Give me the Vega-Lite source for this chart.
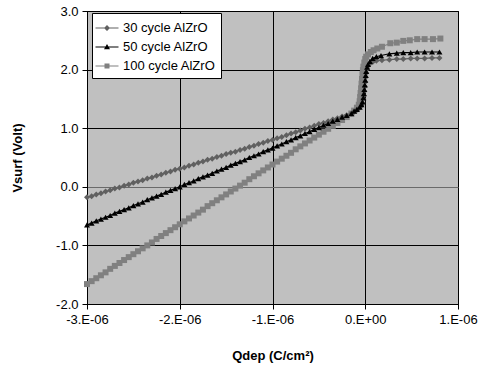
{
"$schema": "https://vega.github.io/schema/vega-lite/v6.json",
"width": 371, "height": 293,
"autosize": "none",
"padding": {"left": 87, "top": 11, "right": 40, "bottom": 72},
"background": "white",
"config": {"view": {"fill": "#C0C0C0", "stroke": "black", "strokeWidth": 1}, "font": "Liberation Sans"},
"data": {"values": [
{"s":"100 cycle AlZrO","q":-3.00e-6,"v":-1.66},{"s":"100 cycle AlZrO","q":-2.95e-6,"v":-1.61},{"s":"100 cycle AlZrO","q":-2.90e-6,"v":-1.56},{"s":"100 cycle AlZrO","q":-2.85e-6,"v":-1.51},{"s":"100 cycle AlZrO","q":-2.80e-6,"v":-1.46},{"s":"100 cycle AlZrO","q":-2.75e-6,"v":-1.40},{"s":"100 cycle AlZrO","q":-2.70e-6,"v":-1.35},{"s":"100 cycle AlZrO","q":-2.65e-6,"v":-1.30},{"s":"100 cycle AlZrO","q":-2.60e-6,"v":-1.25},{"s":"100 cycle AlZrO","q":-2.55e-6,"v":-1.20},
{"s":"100 cycle AlZrO","q":-2.50e-6,"v":-1.15},{"s":"100 cycle AlZrO","q":-2.45e-6,"v":-1.10},{"s":"100 cycle AlZrO","q":-2.40e-6,"v":-1.05},{"s":"100 cycle AlZrO","q":-2.35e-6,"v":-1.00},{"s":"100 cycle AlZrO","q":-2.30e-6,"v":-0.95},{"s":"100 cycle AlZrO","q":-2.25e-6,"v":-0.89},{"s":"100 cycle AlZrO","q":-2.20e-6,"v":-0.84},{"s":"100 cycle AlZrO","q":-2.15e-6,"v":-0.79},{"s":"100 cycle AlZrO","q":-2.10e-6,"v":-0.74},{"s":"100 cycle AlZrO","q":-2.05e-6,"v":-0.69},
{"s":"100 cycle AlZrO","q":-2.00e-6,"v":-0.64},{"s":"100 cycle AlZrO","q":-1.95e-6,"v":-0.59},{"s":"100 cycle AlZrO","q":-1.90e-6,"v":-0.54},{"s":"100 cycle AlZrO","q":-1.85e-6,"v":-0.49},{"s":"100 cycle AlZrO","q":-1.80e-6,"v":-0.44},{"s":"100 cycle AlZrO","q":-1.75e-6,"v":-0.39},{"s":"100 cycle AlZrO","q":-1.70e-6,"v":-0.33},{"s":"100 cycle AlZrO","q":-1.65e-6,"v":-0.28},{"s":"100 cycle AlZrO","q":-1.60e-6,"v":-0.23},{"s":"100 cycle AlZrO","q":-1.55e-6,"v":-0.18},
{"s":"100 cycle AlZrO","q":-1.50e-6,"v":-0.13},{"s":"100 cycle AlZrO","q":-1.45e-6,"v":-0.08},{"s":"100 cycle AlZrO","q":-1.40e-6,"v":-0.03},{"s":"100 cycle AlZrO","q":-1.35e-6,"v":0.02},{"s":"100 cycle AlZrO","q":-1.30e-6,"v":0.07},{"s":"100 cycle AlZrO","q":-1.25e-6,"v":0.13},{"s":"100 cycle AlZrO","q":-1.20e-6,"v":0.18},{"s":"100 cycle AlZrO","q":-1.15e-6,"v":0.23},{"s":"100 cycle AlZrO","q":-1.10e-6,"v":0.28},{"s":"100 cycle AlZrO","q":-1.05e-6,"v":0.33},
{"s":"100 cycle AlZrO","q":-1.00e-6,"v":0.38},{"s":"100 cycle AlZrO","q":-0.95e-6,"v":0.43},{"s":"100 cycle AlZrO","q":-0.90e-6,"v":0.48},{"s":"100 cycle AlZrO","q":-0.85e-6,"v":0.53},{"s":"100 cycle AlZrO","q":-0.80e-6,"v":0.58},{"s":"100 cycle AlZrO","q":-0.75e-6,"v":0.64},{"s":"100 cycle AlZrO","q":-0.70e-6,"v":0.69},{"s":"100 cycle AlZrO","q":-0.65e-6,"v":0.74},{"s":"100 cycle AlZrO","q":-0.60e-6,"v":0.79},{"s":"100 cycle AlZrO","q":-0.55e-6,"v":0.84},
{"s":"100 cycle AlZrO","q":-0.50e-6,"v":0.89},{"s":"100 cycle AlZrO","q":-0.45e-6,"v":0.94},{"s":"100 cycle AlZrO","q":-0.40e-6,"v":0.99},{"s":"100 cycle AlZrO","q":-0.35e-6,"v":1.04},{"s":"100 cycle AlZrO","q":-0.30e-6,"v":1.09},{"s":"100 cycle AlZrO","q":-0.25e-6,"v":1.14},{"s":"100 cycle AlZrO","q":-0.20e-6,"v":1.19},
{"s":"100 cycle AlZrO","q":-0.15e-6,"v":1.25},{"s":"100 cycle AlZrO","q":-0.12e-6,"v":1.30},{"s":"100 cycle AlZrO","q":-0.09e-6,"v":1.35},{"s":"100 cycle AlZrO","q":-0.07e-6,"v":1.40},{"s":"100 cycle AlZrO","q":-0.06e-6,"v":1.46},{"s":"100 cycle AlZrO","q":-0.055e-6,"v":1.53},{"s":"100 cycle AlZrO","q":-0.05e-6,"v":1.60},{"s":"100 cycle AlZrO","q":-0.045e-6,"v":1.68},{"s":"100 cycle AlZrO","q":-0.04e-6,"v":1.76},{"s":"100 cycle AlZrO","q":-0.035e-6,"v":1.84},
{"s":"100 cycle AlZrO","q":-0.03e-6,"v":1.92},{"s":"100 cycle AlZrO","q":-0.025e-6,"v":1.99},{"s":"100 cycle AlZrO","q":-0.02e-6,"v":2.05},{"s":"100 cycle AlZrO","q":-0.01e-6,"v":2.12},{"s":"100 cycle AlZrO","q":0.0,"v":2.18},{"s":"100 cycle AlZrO","q":0.01e-6,"v":2.22},{"s":"100 cycle AlZrO","q":0.03e-6,"v":2.26},{"s":"100 cycle AlZrO","q":0.06e-6,"v":2.30},{"s":"100 cycle AlZrO","q":0.09e-6,"v":2.33},{"s":"100 cycle AlZrO","q":0.13e-6,"v":2.36},
{"s":"100 cycle AlZrO","q":0.18e-6,"v":2.39},{"s":"100 cycle AlZrO","q":0.27e-6,"v":2.45},{"s":"100 cycle AlZrO","q":0.34e-6,"v":2.46},{"s":"100 cycle AlZrO","q":0.41e-6,"v":2.49},{"s":"100 cycle AlZrO","q":0.48e-6,"v":2.50},{"s":"100 cycle AlZrO","q":0.56e-6,"v":2.52},{"s":"100 cycle AlZrO","q":0.64e-6,"v":2.52},{"s":"100 cycle AlZrO","q":0.73e-6,"v":2.52},{"s":"100 cycle AlZrO","q":0.81e-6,"v":2.53},

{"s":"30 cycle AlZrO","q":-3.00e-6,"v":-0.18},{"s":"30 cycle AlZrO","q":-2.95e-6,"v":-0.16},{"s":"30 cycle AlZrO","q":-2.90e-6,"v":-0.13},{"s":"30 cycle AlZrO","q":-2.85e-6,"v":-0.11},{"s":"30 cycle AlZrO","q":-2.80e-6,"v":-0.08},{"s":"30 cycle AlZrO","q":-2.75e-6,"v":-0.06},{"s":"30 cycle AlZrO","q":-2.70e-6,"v":-0.03},{"s":"30 cycle AlZrO","q":-2.65e-6,"v":-0.01},{"s":"30 cycle AlZrO","q":-2.60e-6,"v":0.02},{"s":"30 cycle AlZrO","q":-2.55e-6,"v":0.04},
{"s":"30 cycle AlZrO","q":-2.50e-6,"v":0.07},{"s":"30 cycle AlZrO","q":-2.45e-6,"v":0.09},{"s":"30 cycle AlZrO","q":-2.40e-6,"v":0.11},{"s":"30 cycle AlZrO","q":-2.35e-6,"v":0.14},{"s":"30 cycle AlZrO","q":-2.30e-6,"v":0.16},{"s":"30 cycle AlZrO","q":-2.25e-6,"v":0.19},{"s":"30 cycle AlZrO","q":-2.20e-6,"v":0.21},{"s":"30 cycle AlZrO","q":-2.15e-6,"v":0.24},{"s":"30 cycle AlZrO","q":-2.10e-6,"v":0.26},{"s":"30 cycle AlZrO","q":-2.05e-6,"v":0.29},
{"s":"30 cycle AlZrO","q":-2.00e-6,"v":0.31},{"s":"30 cycle AlZrO","q":-1.95e-6,"v":0.33},{"s":"30 cycle AlZrO","q":-1.90e-6,"v":0.36},{"s":"30 cycle AlZrO","q":-1.85e-6,"v":0.38},{"s":"30 cycle AlZrO","q":-1.80e-6,"v":0.41},{"s":"30 cycle AlZrO","q":-1.75e-6,"v":0.43},{"s":"30 cycle AlZrO","q":-1.70e-6,"v":0.46},{"s":"30 cycle AlZrO","q":-1.65e-6,"v":0.48},{"s":"30 cycle AlZrO","q":-1.60e-6,"v":0.51},{"s":"30 cycle AlZrO","q":-1.55e-6,"v":0.53},
{"s":"30 cycle AlZrO","q":-1.50e-6,"v":0.56},{"s":"30 cycle AlZrO","q":-1.45e-6,"v":0.58},{"s":"30 cycle AlZrO","q":-1.40e-6,"v":0.60},{"s":"30 cycle AlZrO","q":-1.35e-6,"v":0.63},{"s":"30 cycle AlZrO","q":-1.30e-6,"v":0.65},{"s":"30 cycle AlZrO","q":-1.25e-6,"v":0.68},{"s":"30 cycle AlZrO","q":-1.20e-6,"v":0.70},{"s":"30 cycle AlZrO","q":-1.15e-6,"v":0.73},{"s":"30 cycle AlZrO","q":-1.10e-6,"v":0.75},{"s":"30 cycle AlZrO","q":-1.05e-6,"v":0.78},
{"s":"30 cycle AlZrO","q":-1.00e-6,"v":0.80},{"s":"30 cycle AlZrO","q":-0.95e-6,"v":0.83},{"s":"30 cycle AlZrO","q":-0.90e-6,"v":0.85},{"s":"30 cycle AlZrO","q":-0.85e-6,"v":0.88},{"s":"30 cycle AlZrO","q":-0.80e-6,"v":0.91},{"s":"30 cycle AlZrO","q":-0.75e-6,"v":0.93},{"s":"30 cycle AlZrO","q":-0.70e-6,"v":0.96},{"s":"30 cycle AlZrO","q":-0.65e-6,"v":0.99},{"s":"30 cycle AlZrO","q":-0.60e-6,"v":1.01},{"s":"30 cycle AlZrO","q":-0.55e-6,"v":1.04},
{"s":"30 cycle AlZrO","q":-0.50e-6,"v":1.07},{"s":"30 cycle AlZrO","q":-0.45e-6,"v":1.09},{"s":"30 cycle AlZrO","q":-0.40e-6,"v":1.12},{"s":"30 cycle AlZrO","q":-0.35e-6,"v":1.15},{"s":"30 cycle AlZrO","q":-0.30e-6,"v":1.17},{"s":"30 cycle AlZrO","q":-0.25e-6,"v":1.20},{"s":"30 cycle AlZrO","q":-0.20e-6,"v":1.22},
{"s":"30 cycle AlZrO","q":-0.15e-6,"v":1.25},{"s":"30 cycle AlZrO","q":-0.12e-6,"v":1.28},{"s":"30 cycle AlZrO","q":-0.09e-6,"v":1.31},{"s":"30 cycle AlZrO","q":-0.06e-6,"v":1.35},{"s":"30 cycle AlZrO","q":-0.04e-6,"v":1.39},{"s":"30 cycle AlZrO","q":-0.03e-6,"v":1.43},{"s":"30 cycle AlZrO","q":-0.02e-6,"v":1.50},{"s":"30 cycle AlZrO","q":-0.015e-6,"v":1.56},{"s":"30 cycle AlZrO","q":-0.01e-6,"v":1.63},{"s":"30 cycle AlZrO","q":-0.005e-6,"v":1.71},
{"s":"30 cycle AlZrO","q":0.0,"v":1.79},{"s":"30 cycle AlZrO","q":0.005e-6,"v":1.87},{"s":"30 cycle AlZrO","q":0.01e-6,"v":1.94},{"s":"30 cycle AlZrO","q":0.02e-6,"v":2.01},{"s":"30 cycle AlZrO","q":0.03e-6,"v":2.06},{"s":"30 cycle AlZrO","q":0.05e-6,"v":2.10},{"s":"30 cycle AlZrO","q":0.08e-6,"v":2.13},{"s":"30 cycle AlZrO","q":0.12e-6,"v":2.15},{"s":"30 cycle AlZrO","q":0.18e-6,"v":2.16},{"s":"30 cycle AlZrO","q":0.26e-6,"v":2.17},
{"s":"30 cycle AlZrO","q":0.34e-6,"v":2.18},{"s":"30 cycle AlZrO","q":0.41e-6,"v":2.18},{"s":"30 cycle AlZrO","q":0.49e-6,"v":2.19},{"s":"30 cycle AlZrO","q":0.56e-6,"v":2.19},{"s":"30 cycle AlZrO","q":0.64e-6,"v":2.19},{"s":"30 cycle AlZrO","q":0.72e-6,"v":2.20},{"s":"30 cycle AlZrO","q":0.80e-6,"v":2.20},

{"s":"50 cycle AlZrO","q":-3.00e-6,"v":-0.65},{"s":"50 cycle AlZrO","q":-2.95e-6,"v":-0.62},{"s":"50 cycle AlZrO","q":-2.90e-6,"v":-0.58},{"s":"50 cycle AlZrO","q":-2.85e-6,"v":-0.55},{"s":"50 cycle AlZrO","q":-2.80e-6,"v":-0.52},{"s":"50 cycle AlZrO","q":-2.75e-6,"v":-0.49},{"s":"50 cycle AlZrO","q":-2.70e-6,"v":-0.45},{"s":"50 cycle AlZrO","q":-2.65e-6,"v":-0.42},{"s":"50 cycle AlZrO","q":-2.60e-6,"v":-0.39},{"s":"50 cycle AlZrO","q":-2.55e-6,"v":-0.36},
{"s":"50 cycle AlZrO","q":-2.50e-6,"v":-0.32},{"s":"50 cycle AlZrO","q":-2.45e-6,"v":-0.29},{"s":"50 cycle AlZrO","q":-2.40e-6,"v":-0.26},{"s":"50 cycle AlZrO","q":-2.35e-6,"v":-0.22},{"s":"50 cycle AlZrO","q":-2.30e-6,"v":-0.19},{"s":"50 cycle AlZrO","q":-2.25e-6,"v":-0.16},{"s":"50 cycle AlZrO","q":-2.20e-6,"v":-0.13},{"s":"50 cycle AlZrO","q":-2.15e-6,"v":-0.09},{"s":"50 cycle AlZrO","q":-2.10e-6,"v":-0.06},{"s":"50 cycle AlZrO","q":-2.05e-6,"v":-0.03},
{"s":"50 cycle AlZrO","q":-2.00e-6,"v":0.00},{"s":"50 cycle AlZrO","q":-1.95e-6,"v":0.04},{"s":"50 cycle AlZrO","q":-1.90e-6,"v":0.07},{"s":"50 cycle AlZrO","q":-1.85e-6,"v":0.10},{"s":"50 cycle AlZrO","q":-1.80e-6,"v":0.14},{"s":"50 cycle AlZrO","q":-1.75e-6,"v":0.17},{"s":"50 cycle AlZrO","q":-1.70e-6,"v":0.20},{"s":"50 cycle AlZrO","q":-1.65e-6,"v":0.23},{"s":"50 cycle AlZrO","q":-1.60e-6,"v":0.27},{"s":"50 cycle AlZrO","q":-1.55e-6,"v":0.30},
{"s":"50 cycle AlZrO","q":-1.50e-6,"v":0.33},{"s":"50 cycle AlZrO","q":-1.45e-6,"v":0.37},{"s":"50 cycle AlZrO","q":-1.40e-6,"v":0.40},{"s":"50 cycle AlZrO","q":-1.35e-6,"v":0.43},{"s":"50 cycle AlZrO","q":-1.30e-6,"v":0.46},{"s":"50 cycle AlZrO","q":-1.25e-6,"v":0.50},{"s":"50 cycle AlZrO","q":-1.20e-6,"v":0.53},{"s":"50 cycle AlZrO","q":-1.15e-6,"v":0.56},{"s":"50 cycle AlZrO","q":-1.10e-6,"v":0.60},{"s":"50 cycle AlZrO","q":-1.05e-6,"v":0.63},
{"s":"50 cycle AlZrO","q":-1.00e-6,"v":0.66},{"s":"50 cycle AlZrO","q":-0.95e-6,"v":0.70},{"s":"50 cycle AlZrO","q":-0.90e-6,"v":0.73},{"s":"50 cycle AlZrO","q":-0.85e-6,"v":0.77},{"s":"50 cycle AlZrO","q":-0.80e-6,"v":0.80},{"s":"50 cycle AlZrO","q":-0.75e-6,"v":0.84},{"s":"50 cycle AlZrO","q":-0.70e-6,"v":0.87},{"s":"50 cycle AlZrO","q":-0.65e-6,"v":0.91},{"s":"50 cycle AlZrO","q":-0.60e-6,"v":0.94},{"s":"50 cycle AlZrO","q":-0.55e-6,"v":0.98},
{"s":"50 cycle AlZrO","q":-0.50e-6,"v":1.01},{"s":"50 cycle AlZrO","q":-0.45e-6,"v":1.05},{"s":"50 cycle AlZrO","q":-0.40e-6,"v":1.08},{"s":"50 cycle AlZrO","q":-0.35e-6,"v":1.12},{"s":"50 cycle AlZrO","q":-0.30e-6,"v":1.15},{"s":"50 cycle AlZrO","q":-0.25e-6,"v":1.19},{"s":"50 cycle AlZrO","q":-0.20e-6,"v":1.22},
{"s":"50 cycle AlZrO","q":-0.15e-6,"v":1.25},{"s":"50 cycle AlZrO","q":-0.12e-6,"v":1.29},{"s":"50 cycle AlZrO","q":-0.09e-6,"v":1.32},{"s":"50 cycle AlZrO","q":-0.06e-6,"v":1.36},{"s":"50 cycle AlZrO","q":-0.04e-6,"v":1.40},{"s":"50 cycle AlZrO","q":-0.03e-6,"v":1.45},{"s":"50 cycle AlZrO","q":-0.02e-6,"v":1.52},{"s":"50 cycle AlZrO","q":-0.015e-6,"v":1.59},{"s":"50 cycle AlZrO","q":-0.01e-6,"v":1.66},{"s":"50 cycle AlZrO","q":-0.005e-6,"v":1.74},
{"s":"50 cycle AlZrO","q":0.0,"v":1.82},{"s":"50 cycle AlZrO","q":0.005e-6,"v":1.90},{"s":"50 cycle AlZrO","q":0.01e-6,"v":1.97},{"s":"50 cycle AlZrO","q":0.02e-6,"v":2.04},{"s":"50 cycle AlZrO","q":0.03e-6,"v":2.09},{"s":"50 cycle AlZrO","q":0.05e-6,"v":2.14},{"s":"50 cycle AlZrO","q":0.08e-6,"v":2.19},{"s":"50 cycle AlZrO","q":0.12e-6,"v":2.22},{"s":"50 cycle AlZrO","q":0.17e-6,"v":2.24},{"s":"50 cycle AlZrO","q":0.26e-6,"v":2.27},
{"s":"50 cycle AlZrO","q":0.34e-6,"v":2.28},{"s":"50 cycle AlZrO","q":0.41e-6,"v":2.29},{"s":"50 cycle AlZrO","q":0.49e-6,"v":2.29},{"s":"50 cycle AlZrO","q":0.56e-6,"v":2.30},{"s":"50 cycle AlZrO","q":0.64e-6,"v":2.30},{"s":"50 cycle AlZrO","q":0.72e-6,"v":2.30},{"s":"50 cycle AlZrO","q":0.80e-6,"v":2.30}
]},
"encoding": {
  "x": {"field": "q", "type": "quantitative",
    "scale": {"domain": [-3e-6, 1e-6], "nice": false, "zero": false},
    "axis": {"values": [-3e-6, -2e-6, -1e-6, 0, 1e-6],
      "labelExpr": "datum.value === 0 ? '0.E+00' : (datum.value < 0 ? '-' : '') + abs(round(datum.value * 1e6)) + '.E-06'",
      "title": "Qdep (C/cm²)", "titleFontSize": 13, "titleFontWeight": "bold", "titleColor": "black", "titlePadding": 23,
      "labelFontSize": 13, "labelColor": "black", "labelPadding": 4, "labelFlush": false,
      "tickColor": "black", "tickSize": 5, "domainColor": "black", "gridColor": "black", "gridOpacity": 1}},
  "y": {"field": "v", "type": "quantitative",
    "scale": {"domain": [-2, 3], "nice": false, "zero": false},
    "axis": {"values": [-2, -1, 0, 1, 2, 3],
      "labelExpr": "(datum.value < 0 ? '-' : '') + format(abs(datum.value), '.1f')",
      "title": "Vsurf (Volt)", "titleFontSize": 13, "titleFontWeight": "bold", "titleColor": "black", "titlePadding": 31,
      "labelFontSize": 13, "labelColor": "black", "labelPadding": 4, "labelFlush": false,
      "tickColor": "black", "tickSize": 5, "domainColor": "black",
      "gridColor": {"condition": {"test": "datum.value === 0", "value": "#6a6a6a"}, "value": "black"}, "gridOpacity": 1}},
  "color": {"field": "s", "type": "nominal",
    "scale": {"domain": ["30 cycle AlZrO", "50 cycle AlZrO", "100 cycle AlZrO"], "range": ["#606060", "#000000", "#808080"]},
    "legend": {"title": null, "orient": "none", "legendX": 5, "legendY": 2, "padding": 5, "fillColor": "white", "strokeColor": "black",
      "labelFontSize": 13, "labelColor": "black", "labelOffset": 6, "rowPadding": 2, "symbolSize": 400, "symbolOpacity": 1, "symbolStrokeWidth": 0}}
},
"layer": [
  {"mark": {"type": "point", "filled": true, "opacity": 0, "size": 1},
   "encoding": {"shape": {"field": "s", "type": "nominal",
     "scale": {"domain": ["30 cycle AlZrO", "50 cycle AlZrO", "100 cycle AlZrO"],
       "range": ["M-1.15,-0.05H1.15V0.05H-1.15Z M0,-0.3L0.3,0L0,0.3L-0.3,0Z", "M-1.15,-0.05H1.15V0.05H-1.15Z M0,-0.3L0.3,0.22L-0.3,0.22Z", "M-1.15,-0.05H1.15V0.05H-1.15Z M-0.25,-0.25H0.25V0.25H-0.25Z"]},
     "legend": {"title": null, "orient": "none", "legendX": 5, "legendY": 2, "padding": 5, "fillColor": "white", "strokeColor": "black",
      "labelFontSize": 13, "labelColor": "black", "labelOffset": 6, "rowPadding": 2, "symbolSize": 400, "symbolOpacity": 1, "symbolStrokeWidth": 0}}}},
  {"mark": {"type": "line", "strokeWidth": 1.2}},
  {"transform": [{"filter": "datum.s === '100 cycle AlZrO'"}],
   "mark": {"type": "point", "filled": true, "opacity": 1, "size": 36, "shape": "square"}},
  {"transform": [{"filter": "datum.s === '30 cycle AlZrO'"}],
   "mark": {"type": "point", "filled": true, "opacity": 1, "size": 36, "shape": "diamond"}},
  {"transform": [{"filter": "datum.s === '50 cycle AlZrO'"}],
   "mark": {"type": "point", "filled": true, "opacity": 1, "size": 36, "shape": "triangle-up"}}
]
}
